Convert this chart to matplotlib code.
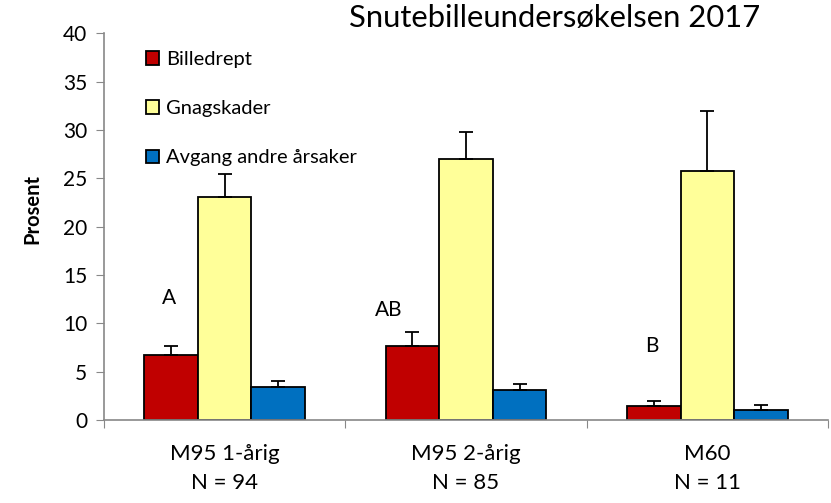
import matplotlib
matplotlib.use("Agg")
import matplotlib.pyplot as plt
import numpy as np

plt.rcParams['font.family'] = ['Lato', 'DejaVu Sans']

title = "Snutebilleundersøkelsen 2017"
categories = ["M95 1-årig", "M95 2-årig", "M60"]
n_labels = ["N = 94", "N = 85", "N = 11"]
series = ["Billedrept", "Gnagskader", "Avgang andre årsaker"]
billedrept = [6.7, 7.65, 1.45]
billedrept_err = [1.0, 1.45, 0.5]
gnagskader = [23.05, 27.0, 25.7]
gnagskader_err = [2.35, 2.8, 6.3]
avgang = [3.4, 3.1, 1.07]
avgang_err = [0.6, 0.6, 0.45]
letters = ["A", "AB", "B"]
letter_y = [12.6, 11.4, 7.65]
colors = ["#C00000", "#FFFF99", "#0070C0"]

fig = plt.figure(figsize=(8.31, 5.03), dpi=100)
ax = fig.add_axes([0.1252, 0.165, 0.8712, 0.769])

x = np.arange(len(categories))
w = 0.222
vals = [billedrept, gnagskader, avgang]
errs = [billedrept_err, gnagskader_err, avgang_err]
for i, (v, e, c, lab) in enumerate(zip(vals, errs, colors, series)):
    pos = x + (i - 1) * w
    ax.bar(pos, v, width=w, color=c, edgecolor="black", linewidth=1.3, label=lab, zorder=2)
    ax.errorbar(pos, v, yerr=[np.zeros(len(v)), e], fmt="none", ecolor="black",
                elinewidth=1.3, capsize=5, capthick=1.3, zorder=3)

offsets = [-0.01, -0.1, -0.01]
for xi, lt, ly, off in zip(x, letters, letter_y, offsets):
    ax.text(xi - w + off, ly, lt, ha="center", va="center", fontsize=15)

ax.set_xlim(-0.5, len(categories) - 0.5)
ax.set_ylim(0, 40)
ax.set_yticks(np.arange(0, 41, 5))
ax.set_xticks(np.arange(-0.5, len(categories), 1.0))
ax.set_xticklabels([])
ax.set_xticks(x, minor=True)
ax.set_xticklabels([f"{c}\n{n}" for c, n in zip(categories, n_labels)], minor=True,
                   linespacing=1.6)
ax.tick_params(axis="x", which="minor", length=0, labelsize=16, pad=17)
ax.tick_params(axis="x", which="major", length=6, color="#888888", direction="out")
ax.tick_params(axis="y", length=6, color="#888888", labelsize=15, pad=6)
for s in ["top", "right"]:
    ax.spines[s].set_visible(False)
for s in ["left", "bottom"]:
    ax.spines[s].set_color("#888888")
    ax.spines[s].set_linewidth(1.2)

ax.set_ylabel("Prosent", fontsize=14.5, fontweight="bold")
ax.yaxis.set_label_coords(-0.085, 0.545)
fig.text(0.667, 0.965, title, ha="center", va="center", fontsize=22.3)

leg = ax.legend(loc="upper left", bbox_to_anchor=(0.047, 0.975), frameon=False,
                fontsize=14.5, handlelength=0.65, handleheight=0.65, handletextpad=0.35,
                labelspacing=1.6, borderaxespad=0)

fig.savefig("out.png", dpi=100)
